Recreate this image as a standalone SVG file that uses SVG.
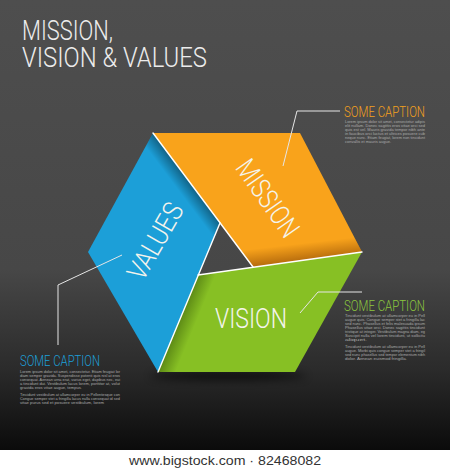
<svg xmlns="http://www.w3.org/2000/svg" width="450" height="470" viewBox="0 0 450 470">
  <defs>
    <linearGradient id="bg" x1="0" y1="0" x2="0" y2="450" gradientUnits="userSpaceOnUse">
      <stop offset="0" stop-color="#4e4e4e"/>
      <stop offset="0.6" stop-color="#474747"/>
      <stop offset="0.82" stop-color="#2b2b2b"/>
      <stop offset="1" stop-color="#0b0b0b"/>
    </linearGradient>
    <linearGradient id="shBlue" x1="186.5" y1="178" x2="175.3" y2="186.4" gradientUnits="userSpaceOnUse">
      <stop offset="0" stop-color="#000" stop-opacity="0.38"/>
      <stop offset="1" stop-color="#000" stop-opacity="0"/>
    </linearGradient>
    <linearGradient id="shOrange" x1="307.5" y1="259.5" x2="305.6" y2="243" gradientUnits="userSpaceOnUse">
      <stop offset="0" stop-color="#7a3a00" stop-opacity="0.5"/>
      <stop offset="1" stop-color="#7a3a00" stop-opacity="0"/>
    </linearGradient>
    <linearGradient id="shGreen" x1="189" y1="297.5" x2="203.8" y2="303.6" gradientUnits="userSpaceOnUse">
      <stop offset="0" stop-color="#1e3a00" stop-opacity="0.4"/>
      <stop offset="1" stop-color="#1e3a00" stop-opacity="0"/>
    </linearGradient>
    <filter id="blur" x="-50%" y="-200%" width="200%" height="500%">
      <feGaussianBlur stdDeviation="4"/>
    </filter>
    <style>
      .title { font-family: Roboto, "Liberation Sans", sans-serif; font-weight: 300; font-size: 28px; fill: #ececec; }
      .label { font-family: Roboto, "Liberation Sans", sans-serif; font-weight: 300; font-size: 28px; fill: #f4f4ec; }
      .cap { font-family: Roboto, "Liberation Sans", sans-serif; font-weight: 300; font-size: 14px; }
      .body { font-family: "Liberation Sans", sans-serif; font-size: 3.6px; fill: #ababab; }
      .edge { stroke: #ffffff; stroke-width: 1.4; fill: none; stroke-linecap: round; }
      .lead { stroke: #e6e6e6; stroke-width: 1; fill: none; }
    </style>
  </defs>

  <rect x="0" y="0" width="450" height="450" fill="url(#bg)"/>
  <rect x="0" y="450" width="450" height="20" fill="#ffffff"/>
  <text x="225" y="465" text-anchor="middle" font-family="'Liberation Sans', sans-serif" font-size="12.5" fill="#333333" textLength="192" lengthAdjust="spacingAndGlyphs">www.bigstock.com · 82468082</text>

  <g id="title">
    <text class="title" x="22" y="40" textLength="91" lengthAdjust="spacingAndGlyphs">MISSION,</text>
    <text class="title" x="22" y="67" textLength="185" lengthAdjust="spacingAndGlyphs">VISION &amp; VALUES</text>
  </g>

  <ellipse cx="228" cy="376" rx="78" ry="4" fill="#000" opacity="0.7" filter="url(#blur)"/>

  <g id="node-values">
    <polygon points="153,133 88,252 158,372 220,223" fill="#1c9fd8"/>
    <polygon points="153,133 88,252 158,372 220,223" fill="url(#shBlue)"/>
    <text class="label" transform="translate(155,241) rotate(-60)" x="0" y="10" text-anchor="middle" textLength="84" lengthAdjust="spacingAndGlyphs">VALUES</text>
  </g>

  <g id="node-mission">
    <polygon points="153,133 300,133 362,252 253,267" fill="#f9a31b"/>
    <polygon points="153,133 300,133 362,252 253,267" fill="url(#shOrange)"/>
    <text class="label" transform="translate(268,198) rotate(55)" x="0" y="10" text-anchor="middle" textLength="88" lengthAdjust="spacingAndGlyphs">MISSION</text>
  </g>

  <g id="node-vision">
    <polygon points="362,252 295,372 158,372 198,275" fill="#87c024"/>
    <polygon points="362,252 295,372 158,372 198,275" fill="url(#shGreen)"/>
    <text class="label" x="251" y="328" text-anchor="middle" textLength="72" lengthAdjust="spacingAndGlyphs">VISION</text>
  </g>

  <g id="edges">
    <line class="edge" x1="153" y1="133" x2="253" y2="267"/>
    <line class="edge" x1="362" y1="252" x2="198" y2="275"/>
    <line class="edge" x1="158" y1="372" x2="220" y2="223"/>
  </g>

  <g id="connectors">
    <polyline class="lead" points="283,166 297,111 340,111"/>
    <polyline class="lead" points="300,313 318,292 362,292"/>
    <polyline class="lead" points="122,255 58,285 58,345"/>
  </g>

  <g id="caption-mission">
    <text class="cap" x="344" y="117" fill="#f4a11d" textLength="81" lengthAdjust="spacingAndGlyphs">SOME CAPTION</text>
    <text class="body" x="345" y="123" textLength="80" lengthAdjust="spacingAndGlyphs">Lorem ipsum dolor sit amet, consectetur adipis</text>
    <text class="body" x="345" y="127" textLength="80" lengthAdjust="spacingAndGlyphs">elit nullam. Donec sagittis eros vitae orci sed</text>
    <text class="body" x="345" y="131" textLength="80" lengthAdjust="spacingAndGlyphs">quis est vel. Mauris gravida tempor nibh ante</text>
    <text class="body" x="345" y="135" textLength="80" lengthAdjust="spacingAndGlyphs">in faucibus orci luctus et ultrices posuere cub</text>
    <text class="body" x="345" y="139" textLength="80" lengthAdjust="spacingAndGlyphs">neque nunc. Etiam feugiat, lorem non tincidunt</text>
    <text class="body" x="345" y="143" textLength="46" lengthAdjust="spacingAndGlyphs">convallis et mauris augue.</text>
  </g>

  <g id="caption-vision">
    <text class="cap" x="344" y="311" fill="#8cc63e" textLength="81" lengthAdjust="spacingAndGlyphs">SOME CAPTION</text>
    <text class="body" x="345" y="317" textLength="80" lengthAdjust="spacingAndGlyphs">Tincidunt vestibulum at ullamcorper eu in Pell</text>
    <text class="body" x="345" y="321" textLength="80" lengthAdjust="spacingAndGlyphs">augue quis. Congue semper stet a fringilla lac</text>
    <text class="body" x="345" y="325" textLength="80" lengthAdjust="spacingAndGlyphs">sed nunc. Phasellus et felis malesuada ipsum</text>
    <text class="body" x="345" y="329" textLength="80" lengthAdjust="spacingAndGlyphs">Phasellus vitae orci. Donec sagittis tincidunt</text>
    <text class="body" x="345" y="333" textLength="80" lengthAdjust="spacingAndGlyphs">tristique at integer. Vestibulum magna diam, eg</text>
    <text class="body" x="345" y="337" textLength="80" lengthAdjust="spacingAndGlyphs">Suscipit nulla vel lorem tincidunt, ut sollicitu</text>
    <text class="body" x="345" y="341" textLength="22" lengthAdjust="spacingAndGlyphs">aliquet.</text>
    <text class="body" x="345" y="348" textLength="80" lengthAdjust="spacingAndGlyphs">Tincidunt vestibulum at ullamcorper eu in Pell</text>
    <text class="body" x="345" y="352" textLength="80" lengthAdjust="spacingAndGlyphs">augue. Morbi quis congue semper stet a fringil</text>
    <text class="body" x="345" y="356" textLength="80" lengthAdjust="spacingAndGlyphs">sed nunc phasellus sed tempor elementum nibh</text>
    <text class="body" x="345" y="360" textLength="62" lengthAdjust="spacingAndGlyphs">dolor. Aenean euismod fringilla.</text>
  </g>

  <g id="caption-values">
    <text class="cap" x="20" y="366" fill="#1c9fd8" textLength="80" lengthAdjust="spacingAndGlyphs">SOME CAPTION</text>
    <text class="body" x="20" y="373" textLength="100" lengthAdjust="spacingAndGlyphs">Lorem ipsum dolor sit amet, consectetur. Etiam feugiat lor</text>
    <text class="body" x="20" y="377" textLength="100" lengthAdjust="spacingAndGlyphs">diam semper gravida. Suspendisse potenti quis nisl at eros</text>
    <text class="body" x="20" y="381" textLength="100" lengthAdjust="spacingAndGlyphs">consequat. Aenean urna erat, varius eget, dapibus nec, eui</text>
    <text class="body" x="20" y="385" textLength="100" lengthAdjust="spacingAndGlyphs">a tincidunt dui. Vestibulum lacus lorem, porttitor at, volut</text>
    <text class="body" x="20" y="389" textLength="62" lengthAdjust="spacingAndGlyphs">gravida eros vitae augue, tempus.</text>
    <text class="body" x="20" y="396" textLength="100" lengthAdjust="spacingAndGlyphs">Tincidunt vestibulum at ullamcorper eu in Pellentesque con</text>
    <text class="body" x="20" y="400" textLength="100" lengthAdjust="spacingAndGlyphs">Congue semper stet a fringilla lacus nulla consequat id sed</text>
    <text class="body" x="20" y="404" textLength="84" lengthAdjust="spacingAndGlyphs">vitae purus sed et posuere vestibulum, lorem</text>
  </g>
</svg>
